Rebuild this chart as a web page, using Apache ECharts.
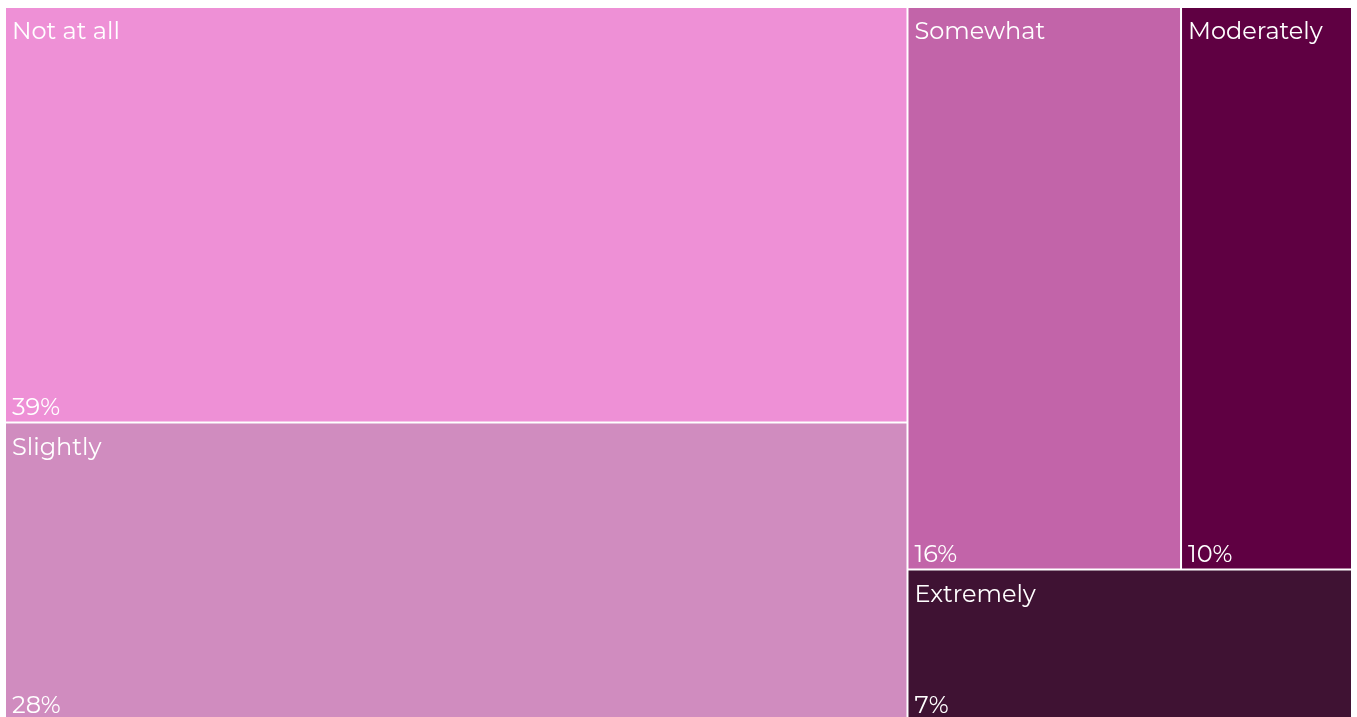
<!DOCTYPE html>
<html>
<head>
<meta charset="utf-8">
<script src="https://cdn.jsdelivr.net/npm/echarts@6/dist/echarts.min.js"></script>
<style>
  html, body { margin: 0; padding: 0; background: #fff; }
  #chart { width: 1357px; height: 717px; }
</style>
</head>
<body>
<div id="chart"></div>
<script>
var categories = ['Not at all', 'Slightly', 'Somewhat', 'Moderately', 'Extremely']
var shares = [39, 28, 16, 10, 7]
var colors = ['#EE90D6', '#D08CBF', '#C264A9', '#5F0042', '#3F1233']

var chart = echarts.init(document.getElementById('chart'))

function buildData(withColor) {
  return categories.map(function (name, i) {
    return {
      name: name,
      value: shares[i],
      itemStyle: { color: withColor ? colors[i] : 'rgba(0,0,0,0)' }
    }
  })
}

var common = {
  type: 'treemap',
  left: 6,
  top: 8,
  right: 6,
  bottom: -3,
  roam: false,
  nodeClick: false,
  breadcrumb: { show: false },
  animation: false
}

var option = {
  series: [
    Object.assign({}, common, {
      name: 'names',
      levels: [{ itemStyle: { gapWidth: 2, borderWidth: 0 } }],
      label: {
        show: true,
        position: 'insideTopLeft',
        formatter: '{b}',
        color: '#fff',
        fontSize: 24,
        fontFamily: 'Montserrat, Lato, sans-serif',
        padding: [12, 0, 0, 6]
      },
      data: buildData(true)
    }),
    Object.assign({}, common, {
      name: 'shares',
      silent: true,
      levels: [{ itemStyle: { gapWidth: 2, borderWidth: 0 } }],
      label: {
        show: true,
        position: 'insideBottomLeft',
        formatter: function (p) { return p.value + '%' },
        color: '#fff',
        fontSize: 24,
        fontFamily: 'Montserrat, Lato, sans-serif',
        padding: [0, 0, 2, 6]
      },
      data: buildData(false)
    })
  ]
}

chart.setOption(option)
</script>
</body>
</html>
